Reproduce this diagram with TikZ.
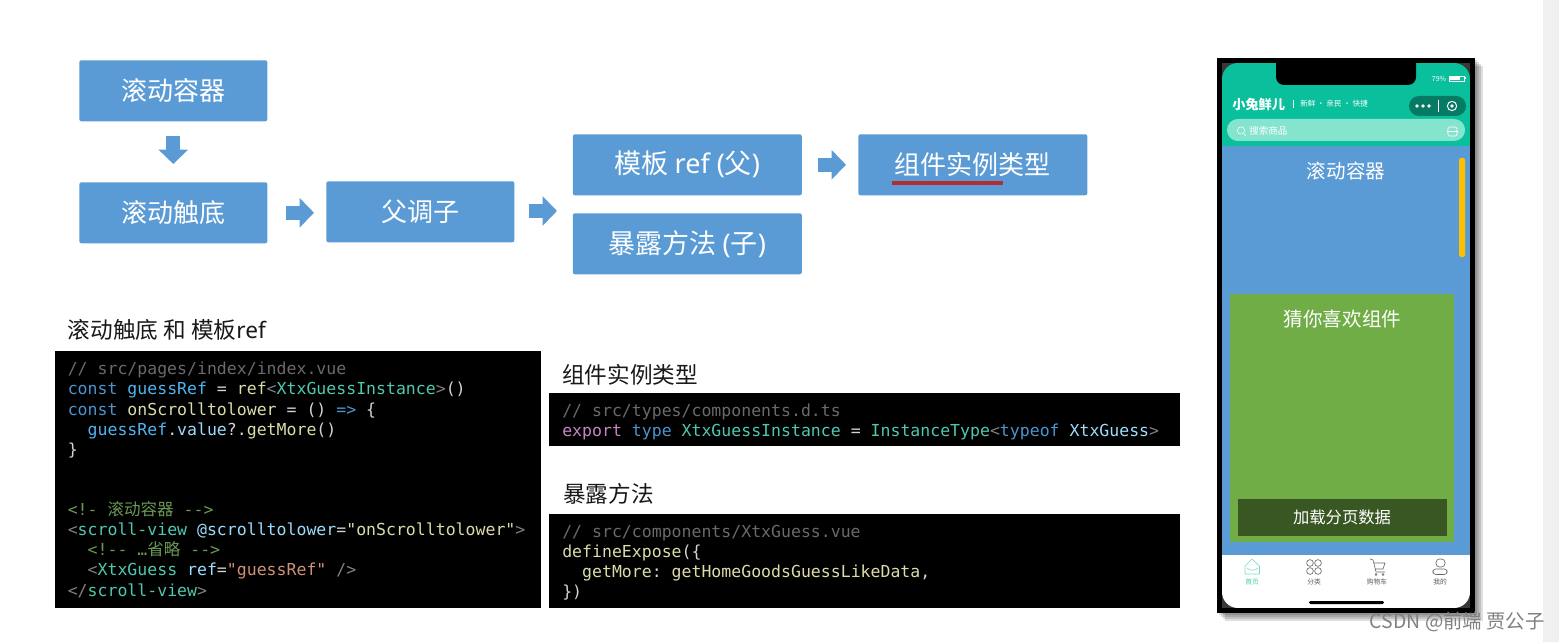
\documentclass[tikz,border=0pt]{standalone}
\usepackage{fontspec}
\setmainfont{Noto Sans CJK SC}
\setmonofont{DejaVu Sans Mono}
\newfontfamily\cjk{Noto Sans CJK SC}
\newfontfamily\latin{Noto Sans}
\usepackage{xcolor}
\usetikzlibrary{arrows.meta}
\definecolor{flowblue}{HTML}{5B9BD5}
\definecolor{leafgreen}{HTML}{70AD47}
\definecolor{darkleaf}{HTML}{385723}
\definecolor{headgreen}{HTML}{0ABF9B}
\definecolor{searchgreen}{HTML}{85E4CE}
\definecolor{capsgreen}{HTML}{067A63}
\definecolor{tabteal}{HTML}{7FD8C4}
\definecolor{ccmt}{HTML}{6A6A6A}
\definecolor{ckw}{HTML}{4A94D0}
\definecolor{cvar}{HTML}{4FB4F0}
\definecolor{cattr}{HTML}{9CDCFE}
\definecolor{cfun}{HTML}{DCDCAA}
\definecolor{ctype}{HTML}{4EC9B0}
\definecolor{cstr}{HTML}{CE9178}
\definecolor{cnote}{HTML}{6A9955}
\definecolor{cpur}{HTML}{C586C0}
\definecolor{cpun}{HTML}{D4D4D4}
\definecolor{cgt}{HTML}{808080}
\newcommand{\tc}[2]{\textcolor{#1}{#2}}
\begin{document}
\begin{tikzpicture}[x=0.025cm,y=-0.025cm,
  flowbox/.style={anchor=north west,fill=flowblue,rounded corners=1.5pt,inner sep=0,text=white,font=\fontsize{18.5}{20}\selectfont,minimum width=4.7cm,minimum height=1.525cm},
  widebox/.style={flowbox,minimum width=5.725cm},
  flowarrow/.style={flowblue,line width=0.35cm,-{Triangle[length=0.36cm,width=0.72cm]}},
  heading/.style={anchor=west,inner sep=0,text=black!90,font=\fontsize{16.1}{18}\selectfont},
  codetext/.style={anchor=north west,inner sep=0,align=left,text=cpun,font=\ttfamily\fontsize{11.75}{14.3}\selectfont},
  phonetext/.style={inner sep=0,text=white},
  tablabel/.style={inner sep=0,text=black!65,font=\fontsize{4.8}{5}\selectfont},
  tabicon/.style={draw=black!60,line width=0.45pt}]
\useasboundingbox (0,0) rectangle (1559,642);
\fill[white] (0,0) rectangle (1559,642);
\fill[black!6] (1543,0) rectangle (1559,642);
% flow
\node[flowbox] (scrollbox) at (79,60) {滚动容器};
\node[flowbox] (touchbox) at (79,182) {滚动触底};
\node[flowbox] (callbox) at (326,181) {父调子};
\node[widebox,font=\fontsize{19.2}{20}\selectfont] (refbox) at (572.5,134) {模板 {\latin ref (}父{\latin )}};
\node[widebox,font=\fontsize{19.2}{20}\selectfont] (exposebox) at (572.5,213) {暴露方法 {\latin (}子{\latin )}};
\node[widebox] (typebox) at (858,134) {组件实例类型};
\coordinate (exposetip) at (573,211);
\draw[flowarrow,shorten <=0.35cm,shorten >=0.45cm] (scrollbox.south) -- (touchbox.north);
\draw[flowarrow,shorten <=0.46cm,shorten >=0.3cm] (touchbox.east) -- (touchbox.east -| callbox.west);
\draw[flowarrow,shorten <=0.35cm,shorten >=0.4cm] (callbox.east |- exposetip) -- (exposetip);
\draw[flowarrow,shorten <=0.4cm,shorten >=0.3cm] (refbox.east) -- (typebox.west);
\draw[color={rgb,255:red,178;green,45;blue,45},line width=0.09cm] (892,183) -- (1003,183);
% code blocks
\node[heading] (scrolltitle) at (67.5,330) {滚动触底 和 模板{\latin ref}};
\node[heading] (typetitle) at (562,374.5) {组件实例类型};
\node[heading] (exposetitle) at (563,493.5) {暴露方法};
\fill[black] (55,351) rectangle (541,608);
\fill[black] (549,393) rectangle (1180,446);
\fill[black] (549,514) rectangle (1180,608);
\node[codetext] (scrollcode) at (67.5,362) {\tc{ccmt}{// src/pages/index/index.vue}\\
\tc{ckw}{const} \tc{cvar}{guessRef} = \tc{cfun}{ref}\tc{cgt}{<}\tc{ctype}{XtxGuessInstance}\tc{cgt}{>}()\\
\tc{ckw}{const} \tc{cfun}{onScrolltolower} = () \tc{ckw}{=>} \{\\
\ \ \tc{cvar}{guessRef}.\tc{cattr}{value}?.\tc{cfun}{getMore}()\\
\}\\
\ \\
\ \\
\tc{cnote}{<!- {\cjk 滚动容器} -->}\\
\tc{cgt}{<}\tc{ctype}{scroll-view} \tc{cattr}{@scrolltolower}=\tc{cfun}{"onScrolltolower"}\tc{cgt}{>}\\
\ \ \tc{cnote}{<!-- …{\cjk 省略} -->}\\
\ \ \tc{cgt}{<}\tc{ctype}{XtxGuess} \tc{cattr}{ref}=\tc{cstr}{"guessRef"} \tc{cgt}{/>}\\
\tc{cgt}{</}\tc{ctype}{scroll-view}\tc{cgt}{>}};
\node[codetext] (typecode) at (562,404) {\tc{ccmt}{// src/types/components.d.ts}\\
\tc{cpur}{export} \tc{ckw}{type} \tc{ctype}{XtxGuessInstance} = \tc{ctype}{InstanceType}\tc{cgt}{<}\tc{ckw}{typeof} \tc{cattr}{XtxGuess}\tc{cgt}{>}};
\node[codetext] (exposecode) at (562,525) {\tc{ccmt}{// src/components/XtxGuess.vue}\\
\tc{cfun}{defineExpose}(\{\\
\ \ \tc{cfun}{getMore}: \tc{cfun}{getHomeGoodsGuessLikeData},\\
\})};
% phone
\foreach \s in {8,6,4,2}
  \fill[black,opacity=0.13] (1217+\s,58+\s) rectangle (1475+\s,613+\s);
\fill[black] (1217,58) rectangle (1475,613);
\fill[black!78] (1222,63) rectangle (1470,608);
\begin{scope}
\clip[rounded corners=0.4cm] (1222,63) rectangle (1470,608);
\fill[headgreen] (1222,63) rectangle (1470,146);
\fill[flowblue] (1222,146) rectangle (1470,555);
\fill[white] (1222,555) rectangle (1470,608);
\fill[black,rounded corners=0.2cm] (1276,50) rectangle (1416,85);
\end{scope}
\draw[white,line width=0.3pt] (1449,76) rectangle (1464,81);
\fill[white] (1450,77) rectangle (1460,80);
\fill[white] (1464.5,77.5) rectangle (1465.5,79.5);
\node[phonetext,font=\fontsize{5}{6}\selectfont] (batterytext) at (1439,79) {79\%};
\node[phonetext,anchor=west,font=\bfseries\fontsize{9.4}{10}\selectfont] (brandtext) at (1232,104) {小兔鲜儿};
\draw[white,line width=0.3pt] (1293,100) -- (1293,108);
\node[phonetext,anchor=west,font=\fontsize{5.4}{7}\selectfont] (slogantext) at (1300,104) {新鲜 · 亲民 · 快捷};
\fill[capsgreen,rounded corners=0.25cm] (1409,96) rectangle (1466,116);
\foreach \x in {1417,1423,1429} \fill[white] (\x,106) circle (1.4pt);
\draw[white,line width=0.3pt] (1438,100) -- (1438,112);
\draw[white,line width=0.7pt] (1452,106) circle (3.3pt);
\fill[white] (1452,106) circle (1.3pt);
\fill[searchgreen,rounded corners=0.27cm] (1227,119) rectangle (1465,141);
\draw[white,line width=0.4pt] (1241,130.5) circle (2.6pt) (1244,134) -- (1246,136);
\node[phonetext,anchor=west,font=\fontsize{6.8}{8}\selectfont] (searchtext) at (1249,131) {搜索商品};
\draw[white,line width=0.4pt,rounded corners=1pt] (1448,127) rectangle (1457,136) (1447,131.5) -- (1458,131.5);
\node[phonetext,font=\fontsize{13.9}{15}\selectfont] (phonescroll) at (1346,171.5) {滚动容器};
\fill[color={rgb,255:red,255;green,192;blue,0},rounded corners=1.5pt] (1459,158) rectangle (1465,257);
\fill[leafgreen] (1230,294) rectangle (1454,542);
\node[phonetext,font=\fontsize{13.9}{15}\selectfont] (phoneguess) at (1342.5,319.5) {猜你喜欢组件};
\fill[darkleaf] (1238,499) rectangle (1447,536);
\node[phonetext,font=\fontsize{11.6}{13}\selectfont] (phoneload) at (1342,517.5) {加载分页数据};
% tab bar
\draw[tabicon,draw=tabteal,line join=round] (1245,574) -- (1245,566) -- (1252,559) -- (1259.5,566) -- (1259.5,574) -- cycle;
\draw[tabicon,draw=tabteal] (1247,568) .. controls (1250,571) and (1255,571) .. (1258,568);
\foreach \x/\y in {1310/563,1318/563,1310/571,1318/571}
  \draw[tabicon] (\x,\y) circle (2.4pt);
\draw[tabicon,line join=round] (1370,559) -- (1373,560) -- (1376,572) -- (1385,572) (1373.5,563) -- (1385,563) -- (1383,569) -- (1375,569);
\draw[tabicon] (1376,574.5) circle (0.7pt) (1383,574.5) circle (0.7pt);
\draw[tabicon,rounded corners=2.5pt] (1436,559) rectangle (1445,567);
\draw[tabicon,rounded corners=2pt] (1433,569) rectangle (1447,574.5);
\node[tablabel,text=ctype] (tabhome) at (1252,582) {首页};
\node[tablabel] (tabsort) at (1314,582) {分类};
\node[tablabel] (tabcart) at (1377,582) {购物车};
\node[tablabel] (tabmine) at (1440,582) {我的};
\fill[black,rounded corners=1pt] (1309,601) rectangle (1384,604);
\node[inner sep=0,anchor=east,text=black!50,font=\fontsize{13.8}{16}\selectfont] (watermark) at (1545,622) {CSDN @前端 贾公子};
\end{tikzpicture}
\end{document}
